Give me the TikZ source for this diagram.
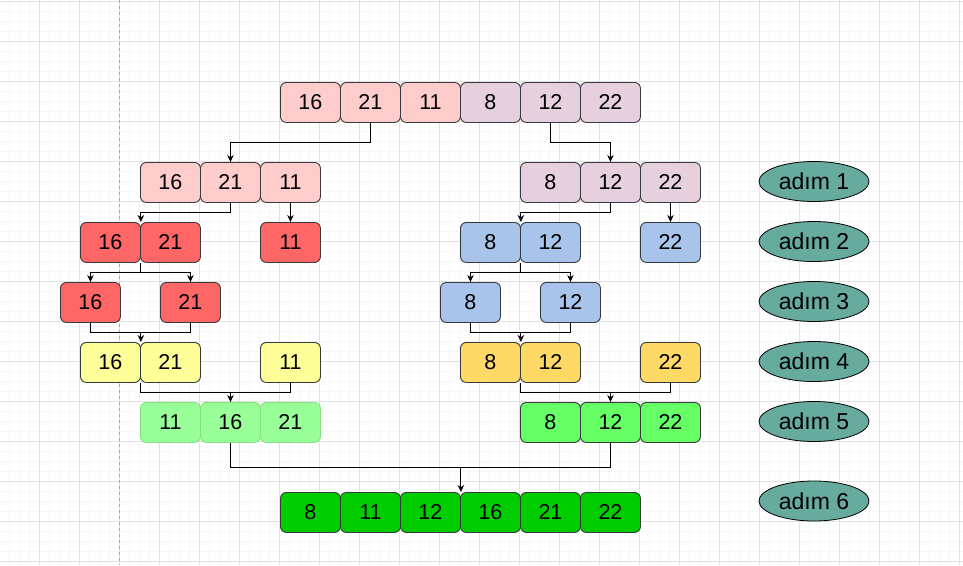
\documentclass[tikz,border=0pt]{standalone}
\usepackage{fontspec}
\setmainfont{Liberation Sans}
\usetikzlibrary{shapes.geometric,arrows.meta,calc}
\definecolor{edgec}{HTML}{36393D}
\definecolor{cpink}{HTML}{FFCCCC}
\definecolor{cpurp}{HTML}{E6D0DE}
\definecolor{cred}{HTML}{FF6666}
\definecolor{cblue}{HTML}{A9C4EB}
\definecolor{cyel}{HTML}{FFFF99}
\definecolor{corange}{HTML}{FFD966}
\definecolor{clgreen}{HTML}{99FF99}
\definecolor{clgreenedge}{HTML}{82E082}
\definecolor{cgreen}{HTML}{66FF66}
\definecolor{cdgreen}{HTML}{00CC00}
\definecolor{cteal}{HTML}{67AB9F}
\definecolor{gminor}{HTML}{F6F6F6}
\definecolor{gmajor}{HTML}{E2E2E2}
\begin{document}
\begin{tikzpicture}[x=1pt,y=-1pt,
  cell/.style={draw=edgec, rounded corners=6pt, minimum width=60pt, minimum height=40pt,
    inner sep=0pt, font=\fontsize{21.5}{25}\selectfont, line width=0.9pt, anchor=north west},
  stepell/.style={ellipse, draw=black, fill=cteal, minimum width=110pt, minimum height=40pt,
    inner sep=0pt, font=\fontsize{23}{27}\selectfont, line width=0.8pt},
  arr/.style={draw=black, line width=0.9pt, -{Stealth[length=7pt,width=6.5pt]}},
  ln/.style={draw=black, line width=0.9pt}]
\useasboundingbox (0,0) rectangle (963,565);
\fill[white] (0,0) rectangle (963,565);
% grid
\foreach \x in {10,20,...,960} \draw[gminor, line width=0.6pt] (\x-0.5,0) -- (\x-0.5,565);
\foreach \y in {0,10,...,560} \draw[gminor, line width=0.6pt] (0,\y+1.5) -- (963,\y+1.5);
\foreach \x in {40,80,...,960} \draw[gmajor, line width=0.8pt] (\x-0.5,0) -- (\x-0.5,565);
\foreach \y in {0,40,...,560} \draw[gmajor, line width=0.8pt] (0,\y+1.5) -- (963,\y+1.5);
\draw[gray!70, dashed, dash pattern=on 3pt off 3pt, line width=0.7pt] (119.5,0) -- (119.5,565);

% row 0
\node[cell, fill=cpink] (t1) at (280,82) {16};
\node[cell, fill=cpink] (t2) at (340,82) {21};
\node[cell, fill=cpink] (t3) at (400,82) {11};
\node[cell, fill=cpurp] (t4) at (460,82) {8};
\node[cell, fill=cpurp] (t5) at (520,82) {12};
\node[cell, fill=cpurp] (t6) at (580,82) {22};
% row 1
\node[cell, fill=cpink] (l1a) at (140,162) {16};
\node[cell, fill=cpink] (l1b) at (200,162) {21};
\node[cell, fill=cpink] (l1c) at (260,162) {11};
\node[cell, fill=cpurp] (r1a) at (520,162) {8};
\node[cell, fill=cpurp] (r1b) at (580,162) {12};
\node[cell, fill=cpurp] (r1c) at (640,162) {22};
% row 2
\node[cell, fill=cred] (l2a) at (80,222) {16};
\node[cell, fill=cred] (l2b) at (140,222) {21};
\node[cell, fill=cred] (l2c) at (260,222) {11};
\node[cell, fill=cblue] (r2a) at (460,222) {8};
\node[cell, fill=cblue] (r2b) at (520,222) {12};
\node[cell, fill=cblue] (r2c) at (640,222) {22};
% row 3
\node[cell, fill=cred] (l3a) at (60,282) {16};
\node[cell, fill=cred] (l3b) at (160,282) {21};
\node[cell, fill=cblue] (r3a) at (440,282) {8};
\node[cell, fill=cblue] (r3b) at (540,282) {12};
% row 4
\node[cell, fill=cyel] (l4a) at (80,342) {16};
\node[cell, fill=cyel] (l4b) at (140,342) {21};
\node[cell, fill=cyel] (l4c) at (260,342) {11};
\node[cell, fill=corange] (r4a) at (460,342) {8};
\node[cell, fill=corange] (r4b) at (520,342) {12};
\node[cell, fill=corange] (r4c) at (640,342) {22};
% row 5
\node[cell, fill=clgreen, draw=clgreenedge] (l5a) at (140,402) {11};
\node[cell, fill=clgreen, draw=clgreenedge] (l5b) at (200,402) {16};
\node[cell, fill=clgreen, draw=clgreenedge] (l5c) at (260,402) {21};
\node[cell, fill=cgreen] (r5a) at (520,402) {8};
\node[cell, fill=cgreen] (r5b) at (580,402) {12};
\node[cell, fill=cgreen] (r5c) at (640,402) {22};
% row 6
\node[cell, fill=cdgreen] (f1) at (280,492) {8};
\node[cell, fill=cdgreen] (f2) at (340,492) {11};
\node[cell, fill=cdgreen] (f3) at (400,492) {12};
\node[cell, fill=cdgreen] (f4) at (460,492) {16};
\node[cell, fill=cdgreen] (f5) at (520,492) {21};
\node[cell, fill=cdgreen] (f6) at (580,492) {22};

% step labels
\node[stepell] (s1) at (814,181.5) {adım 1};
\node[stepell] (s2) at (814,241.5) {adım 2};
\node[stepell] (s3) at (814,301.5) {adım 3};
\node[stepell] (s4) at (814,361.5) {adım 4};
\node[stepell] (s5) at (814,421.5) {adım 5};
\node[stepell] (s6) at (814,501) {adım 6};

% connectors row 0 -> 1
\draw[arr] (t2.south) -- ++(0,20) -| (l1b.north);
\draw[arr] (t5.south) -- ++(0,20) -| (r1b.north);
% row 1 -> 2
\draw[arr] (l1b.south) -- ++(0,10) -| (l2a.north east);
\draw[arr] (l1c.south) -- (l2c.north);
\draw[arr] (r1b.south) -- ++(0,10) -| (r2a.north east);
\draw[arr] (r1c.south) -- (r2c.north);
% row 2 -> 3
\draw[ln] (l2a.south east) -- ++(0,10) coordinate (l23);
\draw[arr] (l23) -| (l3a.north);
\draw[arr] (l23) -| (l3b.north);
\draw[ln] (r2a.south east) -- ++(0,10) coordinate (r23);
\draw[arr] (r23) -| (r3a.north);
\draw[arr] (r23) -| (r3b.north);
% row 3 -> 4
\draw[ln] (l3a.south) -- ++(0,10) coordinate (l34) -| (l3b.south);
\draw[arr] (l34 -| l4a.north east) -- (l4a.north east);
\draw[ln] (r3a.south) -- ++(0,10) coordinate (r34) -| (r3b.south);
\draw[arr] (r34 -| r4a.north east) -- (r4a.north east);
% row 4 -> 5
\draw[ln] (l4a.south east) -- ++(0,10) coordinate (l45) -| (l4c.south);
\draw[arr] (l45 -| l5b.north) -- (l5b.north);
\draw[ln] (r4a.south east) -- ++(0,10) coordinate (r45) -| (r4c.south);
\draw[arr] (r45 -| r5b.north) -- (r5b.north);
% row 5 -> 6
\draw[ln] (l5b.south) -- ++(0,25) coordinate (j56) -| (r5b.south);
\draw[arr] (j56 -| f3.north east) -- (f3.north east);
\end{tikzpicture}
\end{document}
